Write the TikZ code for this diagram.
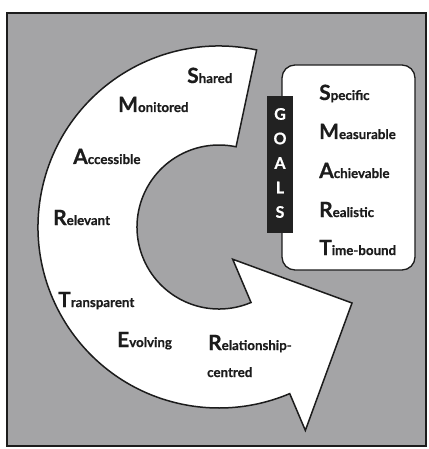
\documentclass[tikz,border=0pt]{standalone}
\usepackage{fontspec}
\setmainfont{Lato}[BoldFeatures={FakeBold=0.6}]
\usetikzlibrary{calc}
\definecolor{panel}{RGB}{164,164,166}
\definecolor{ink}{RGB}{28,28,28}
\definecolor{barblack}{RGB}{34,34,34}
% big initial letter followed by the rest of the word
\newcommand{\smartword}[2]{{\fontsize{21}{21}\selectfont #1}{\fontsize{13.3}{13.3}\selectfont #2}}

\begin{document}
\begin{tikzpicture}[x=1pt,y=1pt,yscale=-1,
  frame/.style={fill=panel, draw=ink, line width=2pt},
  cyclearrow/.style={fill=white, draw=ink, line width=1.5pt, line join=miter},
  goalbox/.style={fill=white, draw=ink, line width=1.3pt, rounded corners=13pt},
  goalbar/.style={fill=barblack, draw=none},
  word/.style={anchor=base west, inner sep=0pt, font=\bfseries, text=ink},
  barletter/.style={inner sep=0pt, text=white, font=\bfseries\fontsize{16}{16}\selectfont}]
\useasboundingbox (0,0) rectangle (428,449);

% grey panel with dark border
\path[frame] (7,13) rectangle (426,446);

% the circular arrow
\coordinate (C) at (219,227);
\coordinate (tip) at (352,303);
\path[cyclearrow]
  ($(C)+(282:181)$) arc[start angle=282, end angle=67, radius=181]
  -- ($(C)+(67:221)$) -- (tip) -- ($(C)+(67:35)$)
  -- ($(C)+(67:82)$) arc[start angle=67, end angle=282, radius=82]
  -- cycle;

% goals box and its black tab
\node[goalbox, minimum width=133pt, minimum height=205pt] (box) at (348.5,167.5) {};
\node[goalbar, minimum width=26pt, minimum height=137pt] (bar) at (280,164.5) {};
\node[barletter] (g1) at (280,114) {G};
\node[barletter] (g2) at (280,138.5) {O};
\node[barletter] (g3) at (280,163) {A};
\node[barletter] (g4) at (280,187.5) {L};
\node[barletter] (g5) at (280,212) {S};

% SMART goals
\node[word] (specific) at (319,100) {\smartword{S}{pecific}};
\node[word] (measurable) at (319,139) {\smartword{M}{easurable}};
\node[word] (achievable) at (319,178) {\smartword{A}{chievable}};
\node[word] (realistic) at (319,217) {\smartword{R}{ealistic}};
\node[word] (timebound) at (319,255) {\smartword{T}{ime-bound}};

% qualities around the arrow
\node[word] (shared) at (187,83) {\smartword{S}{hared}};
\node[word] (monitored) at (118,112) {\smartword{M}{onitored}};
\node[word] (accessible) at (73,164) {\smartword{A}{ccessible}};
\node[word] (relevant) at (53,225) {\smartword{R}{elevant}};
\node[word] (transparent) at (58,307) {\smartword{T}{ransparent}};
\node[word] (evolving) at (117,347) {\smartword{E}{volving}};
\node[word] (relationship) at (208,350) {\smartword{R}{elationship-}};
\node[word, font=\bfseries\fontsize{13.3}{13.3}\selectfont] (centred) at (207,377) {centred};
\end{tikzpicture}
\end{document}
